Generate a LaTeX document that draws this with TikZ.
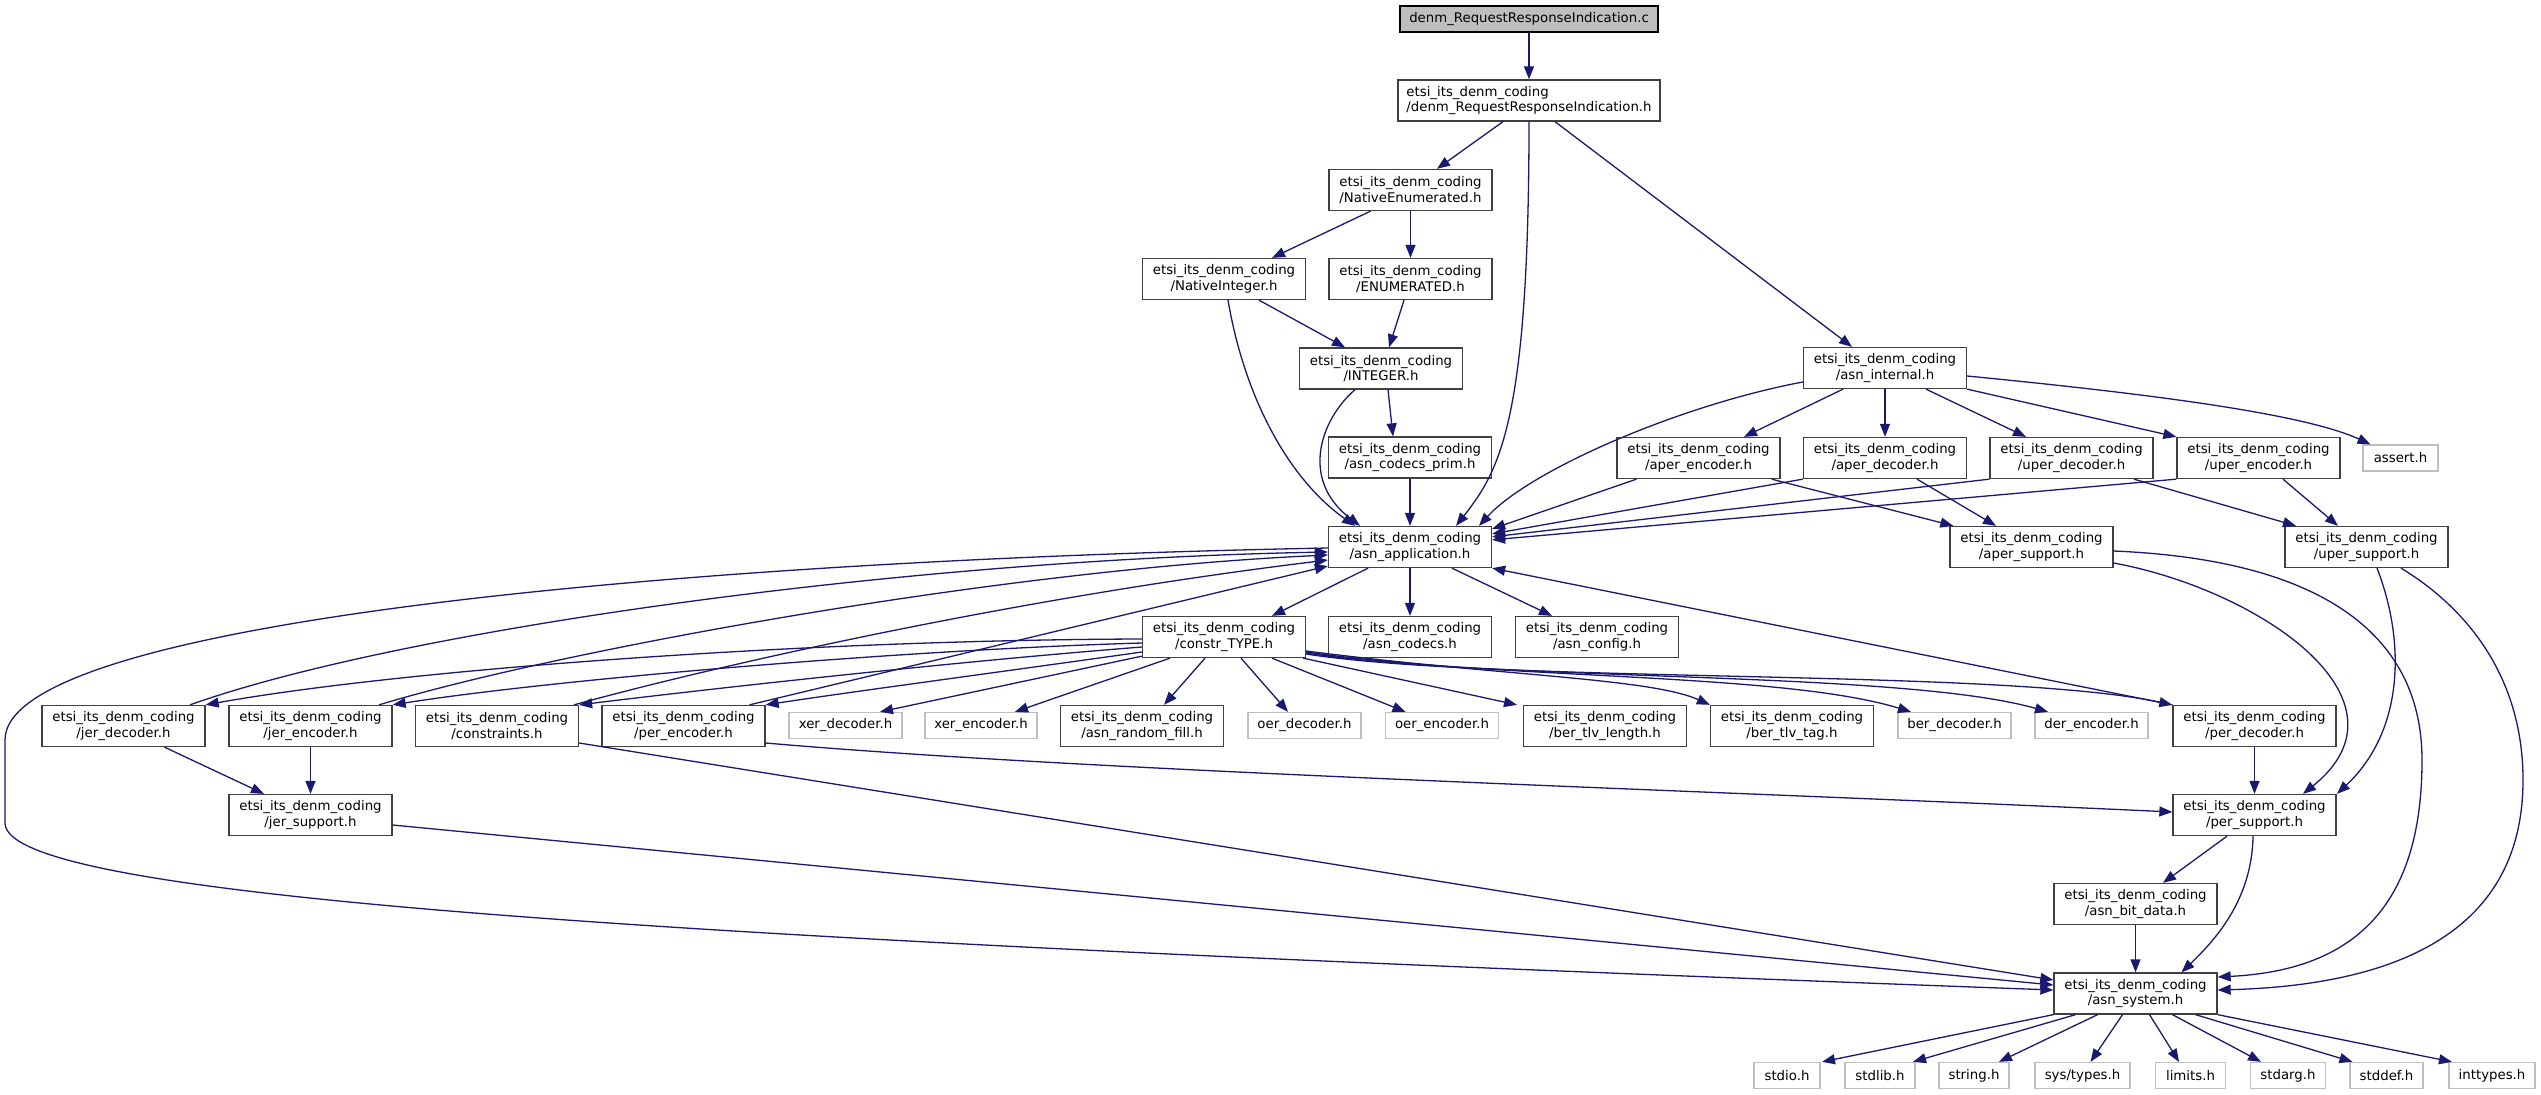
\documentclass[tikz,border=0pt]{standalone}
\usepackage{fontspec}
\setmainfont{DejaVu Sans}
\usetikzlibrary{arrows.meta}
\definecolor{edgeblue}{HTML}{191970}
\definecolor{nodeborder}{HTML}{404040}
\definecolor{grayborder}{HTML}{BFBFBF}
\definecolor{rootfill}{HTML}{BFBFBF}
\tikzset{
  fnode/.style={draw=nodeborder, fill=white, line width=1.3pt, inner sep=0pt,
    minimum width=163pt, minimum height=41pt, align=center,
    font=\fontsize{13.3}{15.5}\selectfont},
  gnode/.style={draw=grayborder, fill=white, line width=1.3pt, inner sep=0pt,
    minimum height=26pt, font=\fontsize{13.3}{15.5}\selectfont},
  rootnode/.style={draw=black, fill=rootfill, line width=1.3pt, inner sep=0pt,
    minimum height=26pt, font=\fontsize{13.3}{15.5}\selectfont},
  dep/.style={draw=edgeblue, line width=1.3pt, -{Triangle[length=13pt,width=10pt]}},
}
\begin{document}
\begin{tikzpicture}[x=1pt,y=-1pt]
\useasboundingbox (0,0) rectangle (2541,1095);
% nodes
\node[rootnode, minimum width=258pt] (root) at (1529,19) {denm\_RequestResponseIndication.c};
\node[fnode, minimum width=262pt, align=left] (drri) at (1529,100.5) {etsi\_its\_denm\_coding\\/denm\_RequestResponseIndication.h};
\node[fnode] (natenum) at (1410.5,190) {etsi\_its\_denm\_coding\\/NativeEnumerated.h};
\node[fnode] (natint) at (1224,279) {etsi\_its\_denm\_coding\\/NativeInteger.h};
\node[fnode] (enumr) at (1410.5,279) {etsi\_its\_denm\_coding\\/ENUMERATED.h};
\node[fnode] (integer) at (1381,368.5) {etsi\_its\_denm\_coding\\/INTEGER.h};
\node[fnode] (asnint) at (1885,368) {etsi\_its\_denm\_coding\\/asn\_internal.h};
\node[fnode] (codecsprim) at (1410,457.5) {etsi\_its\_denm\_coding\\/asn\_codecs\_prim.h};
\node[fnode] (aperenc) at (1698.5,458) {etsi\_its\_denm\_coding\\/aper\_encoder.h};
\node[fnode] (aperdec) at (1885,458) {etsi\_its\_denm\_coding\\/aper\_decoder.h};
\node[fnode] (uperdec) at (2071.6,458) {etsi\_its\_denm\_coding\\/uper\_decoder.h};
\node[fnode] (uperenc) at (2258.5,458) {etsi\_its\_denm\_coding\\/uper\_encoder.h};
\node[gnode, minimum width=75pt] (assert) at (2400.5,458) {assert.h};
\node[fnode] (asnapp) at (1410,547) {etsi\_its\_denm\_coding\\/asn\_application.h};
\node[fnode] (apersup) at (2031.5,547) {etsi\_its\_denm\_coding\\/aper\_support.h};
\node[fnode] (upersup) at (2366.5,547) {etsi\_its\_denm\_coding\\/uper\_support.h};
\node[fnode] (constr) at (1224,637) {etsi\_its\_denm\_coding\\/constr\_TYPE.h};
\node[fnode] (codecs) at (1410,637) {etsi\_its\_denm\_coding\\/asn\_codecs.h};
\node[fnode] (config) at (1597,637) {etsi\_its\_denm\_coding\\/asn\_config.h};
\node[fnode] (jerdec) at (123.5,726) {etsi\_its\_denm\_coding\\/jer\_decoder.h};
\node[fnode] (jerenc) at (310.5,726) {etsi\_its\_denm\_coding\\/jer\_encoder.h};
\node[fnode] (constraints) at (497,726) {etsi\_its\_denm\_coding\\/constraints.h};
\node[fnode] (perenc) at (683.5,726) {etsi\_its\_denm\_coding\\/per\_encoder.h};
\node[gnode, minimum width=113pt] (xerdec) at (845.5,725.5) {xer\_decoder.h};
\node[gnode, minimum width=112pt] (xerenc) at (981,725.5) {xer\_encoder.h};
\node[fnode] (randfill) at (1142,726) {etsi\_its\_denm\_coding\\/asn\_random\_fill.h};
\node[gnode, minimum width=113pt] (oerdec) at (1304.5,725.5) {oer\_decoder.h};
\node[gnode, minimum width=113pt] (oerenc) at (1442,725.5) {oer\_encoder.h};
\node[fnode] (bertlvlen) at (1605,726) {etsi\_its\_denm\_coding\\/ber\_tlv\_length.h};
\node[fnode] (bertlvtag) at (1792,726) {etsi\_its\_denm\_coding\\/ber\_tlv\_tag.h};
\node[gnode, minimum width=113pt] (berdec) at (1954.5,725.5) {ber\_decoder.h};
\node[gnode, minimum width=113pt] (derenc) at (2091.5,725.5) {der\_encoder.h};
\node[fnode] (perdec) at (2254.5,726) {etsi\_its\_denm\_coding\\/per\_decoder.h};
\node[fnode] (jersup) at (310.5,815) {etsi\_its\_denm\_coding\\/jer\_support.h};
\node[fnode] (persup) at (2254.5,815) {etsi\_its\_denm\_coding\\/per\_support.h};
\node[fnode] (bitdata) at (2135.5,904) {etsi\_its\_denm\_coding\\/asn\_bit\_data.h};
\node[fnode] (asnsys) at (2135.5,993.5) {etsi\_its\_denm\_coding\\/asn\_system.h};
\node[gnode, minimum width=66pt] (stdio) at (1787,1075.5) {stdio.h};
\node[gnode, minimum width=70pt] (stdlib) at (1880,1075.5) {stdlib.h};
\node[gnode, minimum width=70pt] (string) at (1974,1075.5) {string.h};
\node[gnode, minimum width=95pt] (systypes) at (2082.5,1075.5) {sys/types.h};
\node[gnode, minimum width=70pt] (limits) at (2190.5,1075.5) {limits.h};
\node[gnode, minimum width=75pt] (stdarg) at (2288,1075.5) {stdarg.h};
\node[gnode, minimum width=73pt] (stddef) at (2386.5,1075.5) {stddef.h};
\node[gnode, minimum width=86pt] (inttypes) at (2492,1075.5) {inttypes.h};
% edges
\draw[dep] (root.south) -- (drri.north);
\draw[dep] ([xshift=-26pt]drri.south) -- ([xshift=26.5pt]natenum.north);
\draw[dep] (drri.south) .. controls (1529,420) and (1500,470) .. ([xshift=46pt]asnapp.north);
\draw[dep] ([xshift=26pt]drri.south) -- ([xshift=-33pt]asnint.north);
\draw[dep] ([xshift=-40pt]natenum.south) -- ([xshift=48pt]natint.north);
\draw[dep] (natenum.south) -- (enumr.north);
\draw[dep] ([xshift=35pt]natint.south) -- ([xshift=-36pt]integer.north);
\draw[dep] ([xshift=4pt]natint.south) .. controls (1245,400) and (1290,480) .. ([xshift=-55pt]asnapp.north);
\draw[dep] ([xshift=-6.5pt]enumr.south) -- ([xshift=8pt]integer.north);
\draw[dep] ([xshift=7pt]integer.south) -- ([xshift=-17pt]codecsprim.north);
\draw[dep] ([xshift=-26pt]integer.south) .. controls (1320,420) and (1300,480) .. ([xshift=-50pt]asnapp.north);
\draw[dep] (codecsprim.south) -- (asnapp.north);
\draw[dep] ([yshift=-14pt]asnint.west) .. controls (1680,405) and (1530,470) .. ([xshift=69pt]asnapp.north);
\draw[dep] ([xshift=-42pt]asnint.south) -- ([xshift=45.5pt]aperenc.north);
\draw[dep] (asnint.south) -- (aperdec.north);
\draw[dep] ([xshift=41pt]asnint.south) -- ([xshift=-45.6pt]uperdec.north);
\draw[dep] (asnint.south east) -- (uperenc.north west);
\draw[dep] ([yshift=-8pt]asnint.east) .. controls (2130,392) and (2300,412) .. ([xshift=-30pt]assert.north);
\draw[dep] ([xshift=-62pt]aperenc.south) -- ([yshift=-3pt]asnapp.north east);
\draw[dep] ([xshift=-9pt]aperenc.south east) -- ([xshift=4pt]apersup.north west);
\draw[dep] (aperdec.south west) -- ([yshift=-8pt]asnapp.north east);
\draw[dep] ([xshift=32pt]aperdec.south) -- ([xshift=-35.5pt]apersup.north);
\draw[dep] (uperdec.south west) -- ([yshift=-11pt]asnapp.north east);
\draw[dep] ([xshift=62.4pt]uperdec.south) -- ([xshift=-70.5pt]upersup.north);
\draw[dep] (uperenc.south west) -- ([yshift=-14pt]asnapp.north east);
\draw[dep] ([xshift=24.5pt]uperenc.south) -- ([xshift=-28.5pt]upersup.north);
\draw[dep] ([yshift=-16pt]apersup.east) .. controls (2260,590) and (2420,700) .. ([xshift=48.5pt]persup.north);
\draw[dep] ([xshift=10.5pt]upersup.south) .. controls (2405,640) and (2405,730) .. ([xshift=82.5pt]persup.north);
\draw[dep] ([yshift=-4pt]apersup.east) .. controls (2330,560) and (2422,640) .. (2422,760) .. controls (2422,900) and (2360,970) .. ([yshift=16.5pt]asnsys.east);
\draw[dep] ([xshift=34.5pt]upersup.south) .. controls (2470,610) and (2523,680) .. (2523,780) .. controls (2523,930) and (2400,985) .. ([yshift=3.5pt]asnsys.east);
\draw[dep] ([xshift=-42pt]asnapp.south) -- ([xshift=48pt]constr.north);
\draw[dep] (asnapp.south) -- (codecs.north);
\draw[dep] ([xshift=42pt]asnapp.south) -- ([xshift=-45pt]config.north);
\draw[dep] ([yshift=-1pt]asnapp.west) .. controls (700,560) and (5,620) .. (5,740) -- (5,823) .. controls (5,900) and (700,940) .. ([yshift=3.5pt]asnsys.west);
\draw[dep] ([xshift=66.5pt]jerdec.north) .. controls (400,630) and (900,560) .. ([yshift=-5pt]asnapp.west);
\draw[dep] ([xshift=68.5pt]jerenc.north) .. controls (560,650) and (1000,570) .. ([yshift=-8pt]asnapp.west);
\draw[dep] ([xshift=77pt]constraints.north) .. controls (700,670) and (1000,600) .. ([yshift=-13pt]asnapp.west);
\draw[dep] ([xshift=66pt]perenc.north) -- ([yshift=-19pt]asnapp.west);
\draw[dep] ([yshift=-2pt]constr.west) .. controls (800,640) and (400,670) .. (jerdec.north east);
\draw[dep] ([yshift=-6pt]constr.west) .. controls (900,650) and (550,680) .. (jerenc.north east);
\draw[dep] ([yshift=-10pt]constr.west) .. controls (950,662) and (700,690) .. (constraints.north east);
\draw[dep] ([yshift=-15pt]constr.west) .. controls (1000,672) and (850,692) .. (perenc.north east);
\draw[dep] ([yshift=2pt]constr.south west) -- ([xshift=34.5pt]xerdec.north);
\draw[dep] ([xshift=-54pt]constr.south) -- ([xshift=34pt]xerenc.north);
\draw[dep] ([xshift=-19pt]constr.south) -- ([xshift=22pt]randfill.north);
\draw[dep] ([xshift=17pt]constr.south) -- ([xshift=-16.5pt]oerdec.north);
\draw[dep] ([xshift=48pt]constr.south) -- ([xshift=-36.5pt]oerenc.north);
\draw[dep] ([xshift=-3pt]constr.south east) -- ([xshift=-88pt]bertlvlen.north);
\draw[dep] ([yshift=-14pt]constr.east) .. controls (1500,676) and (1650,678) .. (bertlvtag.north west);
\draw[dep] ([yshift=-15pt]constr.east) .. controls (1500,680) and (1780,672) .. ([xshift=-43.5pt]berdec.north);
\draw[dep] ([yshift=-16pt]constr.east) .. controls (1500,682) and (1900,670) .. ([xshift=-43.5pt]derenc.north);
\draw[dep] ([yshift=-17pt]constr.east) .. controls (1500,684) and (2000,668) .. (perdec.north west);
\draw[dep] ([yshift=-17pt]perenc.east) .. controls (1100,772) and (1700,790) .. ([yshift=3pt]persup.west);
\draw[dep] ([yshift=-17pt]constraints.east) -- ([yshift=13.5pt]asnsys.west);
\draw[dep] ([yshift=-10pt]jersup.east) -- ([yshift=8.5pt]asnsys.west);
\draw[dep] ([xshift=41pt]jerdec.south) -- ([xshift=-46.5pt]jersup.north);
\draw[dep] (jerenc.south) -- (jersup.north);
\draw[dep] (perdec.south) -- (persup.north);
\draw[dep] (perdec.north west) -- (asnapp.south east);
\draw[dep] ([xshift=-27.5pt]persup.south) -- ([xshift=27.5pt]bitdata.north);
\draw[dep] ([xshift=-1.5pt]persup.south) .. controls (2252,900) and (2215,940) .. ([xshift=46pt]asnsys.north);
\draw[dep] (bitdata.south) -- (asnsys.north);
\draw[dep] (asnsys.south west) -- ([xshift=35pt]stdio.north);
\draw[dep] ([xshift=-60pt]asnsys.south) -- ([xshift=33pt]stdlib.north);
\draw[dep] ([xshift=-38pt]asnsys.south) -- ([xshift=25pt]string.north);
\draw[dep] ([xshift=-13pt]asnsys.south) -- ([xshift=8pt]systypes.north);
\draw[dep] ([xshift=14pt]asnsys.south) -- ([xshift=-11.5pt]limits.north);
\draw[dep] ([xshift=37pt]asnsys.south) -- ([xshift=-27pt]stdarg.north);
\draw[dep] ([xshift=60pt]asnsys.south) -- ([xshift=-34pt]stddef.north);
\draw[dep] (asnsys.south east) -- ([xshift=-40pt]inttypes.north);
\end{tikzpicture}
\end{document}
